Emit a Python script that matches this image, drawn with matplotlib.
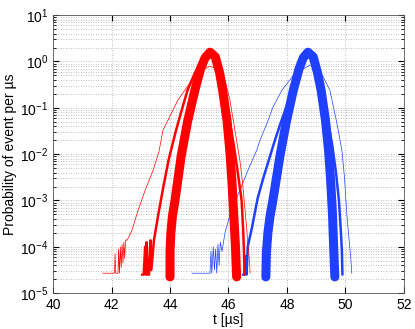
import matplotlib
matplotlib.use("Agg")
import matplotlib.pyplot as plt
import numpy as np

plt.rcParams['font.family'] = ['Liberation Sans', 'DejaVu Sans']
plt.rcParams['mathtext.default'] = 'regular'

# curves: t in microseconds, log10 of probability per us
red_bundle_t = [44.00, 44.00, 44.03, 44.08, 44.17, 44.38, 44.60, 44.85, 45.05, 45.20, 45.37,
                45.55, 45.70, 45.80, 45.95, 46.05, 46.12, 46.18, 46.24, 46.28]
red_bundle_lp = [-4.65, -4.10, -3.70, -3.35, -3.00, -2.05, -1.30, -0.62, -0.15, 0.08, 0.20,
                 0.10, -0.25, -0.62, -1.27, -1.95, -2.60, -3.30, -4.00, -4.65]

red_mid_left_t = [43.04, 43.10, 43.15, 43.17, 43.20, 43.23, 43.28, 43.33, 43.36, 43.45,
                  43.60, 43.75, 43.95, 44.20, 44.40, 44.60, 44.85, 45.05, 45.20]
red_mid_left_lp = [-4.60, -4.60, -4.00, -4.60, -3.90, -4.60, -4.60, -3.86, -4.50, -3.86,
                   -3.30, -2.78, -2.13, -1.50, -1.05, -0.62, -0.25, 0.00, 0.12]

red_mid_right_t = [45.45, 45.65, 45.85, 46.02, 46.18, 46.32, 46.45, 46.50, 46.53, 46.55]
red_mid_right_lp = [0.15, -0.10, -0.60, -1.20, -1.80, -2.40, -3.00, -3.60, -4.07, -4.60]

red_thin_t = [41.70, 42.10, 42.12, 42.14, 42.22, 42.24, 42.27, 42.30, 42.33, 42.36, 42.39,
              42.42, 42.45, 42.48, 42.53, 42.62, 42.70, 42.91, 43.15, 43.42, 43.62, 43.76,
              43.93, 44.27, 44.51, 44.75, 45.09, 45.37, 45.71, 45.88, 46.05, 46.22, 46.39,
              46.48, 46.58, 46.63, 46.67, 46.72, 46.74]
red_thin_lp = [-4.57, -4.57, -4.15, -4.57, -4.57, -4.05, -4.57, -4.00, -4.45, -3.95, -4.35,
               -3.90, -4.25, -3.85, -3.86, -3.75, -3.64, -3.21, -2.78, -2.35, -1.95, -1.48,
               -1.27, -0.83, -0.62, -0.40, -0.19, -0.10, -0.19, -0.40, -0.83, -1.48, -2.13,
               -2.60, -3.30, -3.64, -4.00, -4.30, -4.57]

blue_bundle_t = [47.28, 47.30, 47.35, 47.42, 47.52, 47.76, 47.98, 48.22, 48.42, 48.56, 48.72,
                 48.90, 49.05, 49.17, 49.32, 49.43, 49.50, 49.56, 49.60, 49.64]
blue_bundle_lp = [-4.65, -4.10, -3.70, -3.35, -3.00, -2.05, -1.30, -0.62, -0.15, 0.08, 0.20,
                  0.10, -0.25, -0.62, -1.27, -1.95, -2.60, -3.30, -4.00, -4.65]

blue_mid_left_t = [46.50, 46.55, 46.58, 46.62, 46.66, 46.80, 47.00, 47.20, 47.42, 47.59,
                   47.80, 48.00, 48.20, 48.40, 48.60]
blue_mid_left_lp = [-4.60, -4.60, -4.20, -4.60, -4.00, -3.60, -2.95, -2.50, -2.05, -1.70,
                    -1.30, -0.95, -0.55, -0.20, 0.08]

blue_mid_right_t = [48.85, 49.00, 49.20, 49.38, 49.55, 49.68, 49.78, 49.84, 49.88, 49.90]
blue_mid_right_lp = [0.10, -0.10, -0.60, -1.20, -1.80, -2.40, -3.00, -3.60, -4.07, -4.60]

blue_thin_t = [44.75, 45.37, 45.40, 45.43, 45.48, 45.52, 45.56, 45.60, 45.64, 45.68, 45.72,
               45.78, 45.88, 46.10, 46.39, 46.70, 46.97, 47.08, 47.32, 47.52, 47.83, 48.27,
               48.79, 49.13, 49.47, 49.71, 49.88, 49.97, 50.05, 50.12, 50.18, 50.22]
blue_thin_lp = [-4.57, -4.57, -4.10, -4.57, -4.00, -4.50, -4.05, -4.57, -3.95, -4.40, -3.90,
                -4.10, -3.70, -3.20, -2.78, -2.30, -1.91, -1.70, -1.33, -0.99, -0.62, -0.26,
                -0.08, -0.19, -0.62, -1.33, -1.91, -2.50, -3.30, -3.80, -4.20, -4.57]

x_ticks = [40, 42, 44, 46, 48, 50, 52]

red = '#ff0000'
blue = '#2040ff'

fig = plt.figure(figsize=(4.15, 3.29), dpi=100)
ax = fig.add_axes([0.128, 0.109, 0.845, 0.845])

for col, thin, mleft, mright, bundle in [
        (blue, (blue_thin_t, blue_thin_lp), (blue_mid_left_t, blue_mid_left_lp),
         (blue_mid_right_t, blue_mid_right_lp), (blue_bundle_t, blue_bundle_lp)),
        (red, (red_thin_t, red_thin_lp), (red_mid_left_t, red_mid_left_lp),
         (red_mid_right_t, red_mid_right_lp), (red_bundle_t, red_bundle_lp))]:
    ax.plot(thin[0], 10.0 ** np.array(thin[1]), color=col, lw=0.5)
    ax.plot(mleft[0], 10.0 ** np.array(mleft[1]), color=col, lw=1.8,
            solid_capstyle='round', solid_joinstyle='round')
    ax.plot(mright[0], 10.0 ** np.array(mright[1]), color=col, lw=1.8,
            solid_capstyle='round', solid_joinstyle='round')
    ax.plot(bundle[0], 10.0 ** np.array(bundle[1]), color=col, lw=6.5,
            solid_capstyle='round', solid_joinstyle='round')

ax.set_yscale('log')
ax.set_xlim(40, 52)
ax.set_ylim(1e-5, 1e1)
ax.set_xticks(x_ticks)
ax.grid(True, which='major', linestyle=(0, (1, 2)), color='#aaaaaa', lw=0.6)
ax.grid(True, which='minor', axis='y', linestyle=(0, (1, 2)), color='#aaaaaa', lw=0.6)
ax.tick_params(which='both', direction='in', top=True, right=True, labelsize=10)
ax.tick_params(which='major', length=4)
ax.tick_params(which='minor', length=2)
ax.set_xlabel('t [µs]', fontsize=10, labelpad=1)
ax.set_ylabel('Probability of event per µs', fontsize=10, labelpad=2)
for s in ax.spines.values():
    s.set_color('#555555')
    s.set_linewidth(0.6)

fig.savefig('out.png', dpi=100)
